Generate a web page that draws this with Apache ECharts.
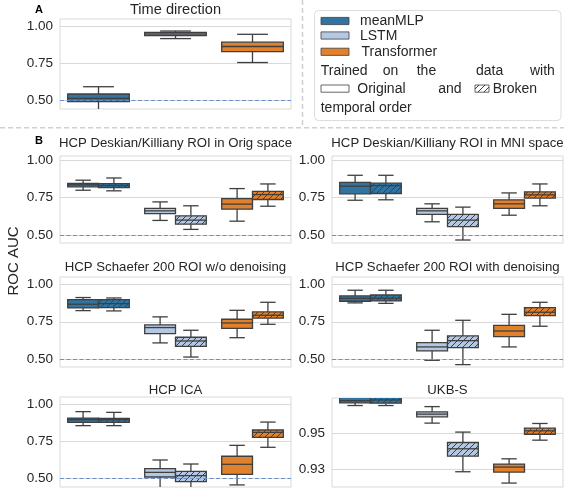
<!DOCTYPE html>
<html>
<head>
<meta charset="utf-8">
<script src="https://cdn.jsdelivr.net/npm/echarts@6/dist/echarts.min.js"></script>
<style>
  html, body { margin: 0; padding: 0; background: #ffffff; }
  #chart { width: 564px; height: 492px; }
</style>
</head>
<body>
<div id="chart"></div>
<script>
// Models on the x axis of every panel
const models = ['meanMLP', 'LSTM', 'Transformer'];

// Box statistics per model: [low whisker, Q1, median, Q3, high whisker]
const timeDirection = [[0.430, 0.493, 0.516, 0.545, 0.594], [0.918, 0.938, 0.949, 0.960, 0.969], [0.757, 0.830, 0.865, 0.894, 0.947]];

const dkOrigOriginal = [[0.800, 0.823, 0.836, 0.845, 0.867], [0.598, 0.644, 0.662, 0.678, 0.722], [0.593, 0.673, 0.707, 0.744, 0.811]];
const dkOrigBroken   = [[0.796, 0.818, 0.831, 0.844, 0.882], [0.538, 0.573, 0.600, 0.629, 0.696], [0.693, 0.738, 0.771, 0.793, 0.842]];

const dkMniOriginal = [[0.733, 0.776, 0.827, 0.853, 0.900], [0.589, 0.638, 0.662, 0.678, 0.709], [0.633, 0.678, 0.709, 0.736, 0.782]];
const dkMniBroken   = [[0.736, 0.778, 0.831, 0.847, 0.900], [0.467, 0.556, 0.600, 0.638, 0.687], [0.696, 0.747, 0.769, 0.789, 0.842]];

const schNoDenoiseOriginal = [[0.825, 0.843, 0.868, 0.899, 0.913], [0.608, 0.670, 0.711, 0.729, 0.783], [0.643, 0.706, 0.742, 0.767, 0.827]];
const schNoDenoiseBroken   = [[0.823, 0.845, 0.872, 0.899, 0.910], [0.513, 0.585, 0.621, 0.646, 0.693], [0.733, 0.774, 0.794, 0.816, 0.881]];

const schDenoiseOriginal = [[0.877, 0.888, 0.908, 0.924, 0.962], [0.491, 0.554, 0.581, 0.610, 0.693], [0.581, 0.650, 0.688, 0.726, 0.800]];
const schDenoiseBroken   = [[0.874, 0.890, 0.908, 0.930, 0.962], [0.462, 0.576, 0.623, 0.655, 0.760], [0.720, 0.791, 0.814, 0.845, 0.881]];

const icaOriginal = [[0.855, 0.877, 0.895, 0.906, 0.949], [0.430, 0.511, 0.542, 0.567, 0.625], [0.458, 0.529, 0.596, 0.650, 0.723]];
const icaBroken   = [[0.855, 0.877, 0.895, 0.904, 0.944], [0.430, 0.480, 0.520, 0.549, 0.598], [0.710, 0.777, 0.810, 0.826, 0.879]];

const ukbOriginal = [[0.9654, 0.9669, 0.9681, 0.9705, 0.9720], [0.9556, 0.9591, 0.9606, 0.9619, 0.9648], [0.9222, 0.9283, 0.9311, 0.9328, 0.9357]];
const ukbBroken   = [[0.9654, 0.9667, 0.9685, 0.9710, 0.9725], [0.9285, 0.9372, 0.9413, 0.9448, 0.9506], [0.9461, 0.9494, 0.9513, 0.9528, 0.9554]];

// Y tick labels
const aucTicks = [0.50, 0.75, 1.00];
const ukbTicks = [0.93, 0.95];
const chanceLevel = 0.5;

// Colours and fonts
const C = {
  blue: '#3274a1', light: '#b4c8e2', orange: '#e1812c',
  edge: '#3f3f3f', grid: '#d9d9d9', ref: '#6a8dcb', text: '#262626', sep: '#d0d0d0'
};
const modelColors = [C.blue, C.light, C.orange];
const FONT = 'Liberation Sans, Arial, sans-serif';

// Diagonal hatch tile for boxes trained on shuffled time order
function hatchTile(bg) {
  const s = 6;
  const cv = document.createElement('canvas');
  cv.width = s; cv.height = s;
  const g = cv.getContext('2d');
  if (bg) { g.fillStyle = bg; g.fillRect(0, 0, s, s); }
  g.strokeStyle = C.edge;
  g.lineWidth = 1;
  g.beginPath();
  g.moveTo(0, s); g.lineTo(s, 0);
  g.moveTo(-1, 1); g.lineTo(1, -1);
  g.moveTo(s - 1, s + 1); g.lineTo(s + 1, s - 1);
  g.stroke();
  return cv;
}
const hatchTiles = modelColors.map(hatchTile);
const hatchWhite = hatchTile('#ffffff');

// Panel layout: grid rectangle [left, top, width, height] and y range
const panels = [
  { title: 'Time direction', rect: [60, 19, 231, 90], y: [0.444, 1.05], ticks: aucTicks, titleY: 10, titleSize: 14.6,
    sets: [timeDirection], ref: true },
  { title: 'HCP Deskian/Killiany ROI in Orig space', rect: [60, 156, 231, 87], y: [0.447, 1.029], ticks: aucTicks, titleY: 143.5,
    sets: [dkOrigOriginal, dkOrigBroken], ref: true },
  { title: 'HCP Deskian/Killiany ROI in MNI space', rect: [332, 156, 231, 87], y: [0.447, 1.029], ticks: aucTicks, titleY: 143.5,
    sets: [dkMniOriginal, dkMniBroken], ref: true },
  { title: 'HCP Schaefer 200 ROI w/o denoising', rect: [60, 277, 231, 90], y: [0.446, 1.051], ticks: aucTicks, titleY: 267,
    sets: [schNoDenoiseOriginal, schNoDenoiseBroken], ref: true },
  { title: 'HCP Schaefer 200 ROI with denoising', rect: [332, 277, 231, 90], y: [0.446, 1.051], ticks: aucTicks, titleY: 267,
    sets: [schDenoiseOriginal, schDenoiseBroken], ref: true },
  { title: 'HCP ICA', rect: [60, 397, 231, 90], y: [0.444, 1.047], ticks: aucTicks, titleY: 390,
    sets: [icaOriginal, icaBroken], ref: true },
  { title: 'UKB-S', rect: [332, 398, 231, 89], y: [0.92, 0.9696], ticks: ukbTicks, titleY: 390,
    sets: [ukbOriginal, ukbBroken], ref: false }
];

// Draws one box with whiskers; hue 1 is hatched
function renderBox(params, api) {
  const cat = api.value(0);
  const hue = api.value(6);
  const n = api.value(7);
  const band = api.size([1, 0])[0];
  const total = band * 0.8;
  const w = total / n;
  const center = api.coord([cat, 0])[0];
  const x0 = center - total / 2 + hue * w;
  const cx = x0 + w / 2;
  const py = i => api.coord([cat, api.value(i)])[1];
  const yl = py(1), yq1 = py(2), ym = py(3), yq3 = py(4), yh = py(5);
  const cap = w * 0.25;
  const lw = 1.3;
  const fill = hue === 1 ? { image: hatchTiles[cat], repeat: 'repeat' } : modelColors[cat];
  const seg = (x1, y1, x2, y2) => ({ type: 'line', shape: { x1, y1, x2, y2 }, style: { stroke: C.edge, lineWidth: lw } });
  return {
    type: 'group',
    children: [
      seg(cx, yl, cx, yq1), seg(cx, yq3, cx, yh),
      seg(cx - cap, yl, cx + cap, yl), seg(cx - cap, yh, cx + cap, yh),
      { type: 'rect', shape: { x: x0, y: yq3, width: w, height: yq1 - yq3 }, style: { fill: fill, stroke: C.edge, lineWidth: lw } },
      seg(x0, ym, x0 + w, ym)
    ]
  };
}

const grids = [], xAxes = [], yAxes = [], series = [], graphics = [];

panels.forEach((p, i) => {
  grids.push({ left: p.rect[0], top: p.rect[1], width: p.rect[2], height: p.rect[3],
    show: true, borderColor: C.grid, borderWidth: 1, backgroundColor: 'transparent' });
  xAxes.push({ type: 'category', gridIndex: i, data: models, boundaryGap: true,
    axisLine: { show: false }, axisTick: { show: false }, axisLabel: { show: false }, splitLine: { show: false } });
  const ticks = p.ticks;
  yAxes.push({ type: 'value', gridIndex: i, min: p.y[0], max: p.y[1],
    axisLine: { show: false }, axisTick: { show: false }, splitLine: { show: false },
    axisLabel: { customValues: ticks, color: C.text, fontSize: 13.5, fontFamily: FONT, margin: 7,
      formatter: v => ticks.some(t => Math.abs(t - v) < 1e-6) ? v.toFixed(2) : '' } });

  // grid lines at the labelled ticks
  series.push({ type: 'line', xAxisIndex: i, yAxisIndex: i, data: [], silent: true, animation: false,
    markLine: { z: 1, silent: true, symbol: 'none', animation: false, label: { show: false },
      lineStyle: { color: C.grid, width: 1, type: 'solid' },
      data: ticks.map(t => ({ yAxis: t })) } });

  // boxes
  const n = p.sets.length;
  const data = [];
  p.sets.forEach((set, hue) => {
    set.forEach((s, cat) => data.push([cat, s[0], s[1], s[2], s[3], s[4], hue, n]));
  });
  series.push({ type: 'custom', xAxisIndex: i, yAxisIndex: i, z: 3, clip: true, silent: true, animation: false,
    renderItem: renderBox, data: data, encode: { x: 0, y: [1, 2, 3, 4, 5] } });

  // chance level
  if (p.ref) {
    series.push({ type: 'line', xAxisIndex: i, yAxisIndex: i, data: [], silent: true, animation: false, z: 6,
      markLine: { z: 6, silent: true, symbol: 'none', animation: false, label: { show: false },
        lineStyle: { color: C.ref, width: 1.2, type: [4, 2.5] },
        data: [{ yAxis: chanceLevel }] } });
  }

  graphics.push({ type: 'text', x: p.rect[0] + p.rect[2] / 2, y: p.titleY,
    style: { text: p.title, font: (p.titleSize || 13.2) + 'px ' + FONT, fill: C.text, textAlign: 'center', textVerticalAlign: 'middle' } });
});

// section letters and shared y label
graphics.push({ type: 'text', x: 35, y: 10, style: { text: 'A', font: 'bold 11px ' + FONT, fill: '#000', textVerticalAlign: 'middle' } });
graphics.push({ type: 'text', x: 35, y: 141, style: { text: 'B', font: 'bold 11px ' + FONT, fill: '#000', textVerticalAlign: 'middle' } });
graphics.push({ type: 'text', x: 14, y: 261, rotation: Math.PI / 2,
  style: { text: 'ROC AUC', font: '15px ' + FONT, fill: C.text, textAlign: 'center', textVerticalAlign: 'middle' } });

// dashed separators between sections
graphics.push({ type: 'line', shape: { x1: 302.5, y1: 0, x2: 302.5, y2: 127 }, style: { stroke: C.sep, lineWidth: 1.5, lineDash: [5, 3] } });
graphics.push({ type: 'line', shape: { x1: 0, y1: 127.7, x2: 564, y2: 127.7 }, style: { stroke: C.sep, lineWidth: 1.5, lineDash: [5, 3] } });

// legend
const LF = '14px ' + FONT;
const legend = [
  { type: 'rect', shape: { x: 314.5, y: 10.5, width: 246.5, height: 110, r: 4 }, style: { fill: '#fff', stroke: '#dddddd', lineWidth: 1 } }
];
models.forEach((m, k) => {
  const cy = [21, 35.5, 51.8][k];
  legend.push({ type: 'rect', shape: { x: 321, y: cy - 3.6, width: 28, height: 7.2 }, style: { fill: modelColors[k], stroke: C.edge, lineWidth: 0.8 } });
  legend.push({ type: 'text', x: [360, 360, 361.5][k], y: cy + 0.5, style: { text: m, font: LF, fill: C.text, textVerticalAlign: 'middle' } });
});
[['Trained', 320.7], ['on', 382.7], ['the', 416.7], ['data', 476], ['with', 530]].forEach(w => {
  legend.push({ type: 'text', x: w[1], y: 70.7, style: { text: w[0], font: LF, fill: C.text, textVerticalAlign: 'middle' } });
});
legend.push({ type: 'rect', shape: { x: 321, y: 85, width: 28, height: 7.2 }, style: { fill: '#ffffff', stroke: C.edge, lineWidth: 0.8 } });
legend.push({ type: 'rect', shape: { x: 475, y: 85, width: 14, height: 7.2 }, style: { fill: { image: hatchWhite, repeat: 'repeat' }, stroke: C.edge, lineWidth: 0.8 } });
[['Original', 357.3], ['and', 438.3], ['Broken', 492.7]].forEach(w => {
  legend.push({ type: 'text', x: w[1], y: 89.5, style: { text: w[0], font: LF, fill: C.text, textVerticalAlign: 'middle' } });
});
legend.push({ type: 'text', x: 320.7, y: 108.3, style: { text: 'temporal order', font: LF, fill: C.text, textVerticalAlign: 'middle' } });
graphics.push(...legend);

const chart = echarts.init(document.getElementById('chart'), null, { renderer: 'canvas' });
chart.setOption({
  animation: false,
  backgroundColor: '#ffffff',
  grid: grids,
  xAxis: xAxes,
  yAxis: yAxes,
  series: series,
  graphic: { elements: graphics }
});
</script>
</body>
</html>
